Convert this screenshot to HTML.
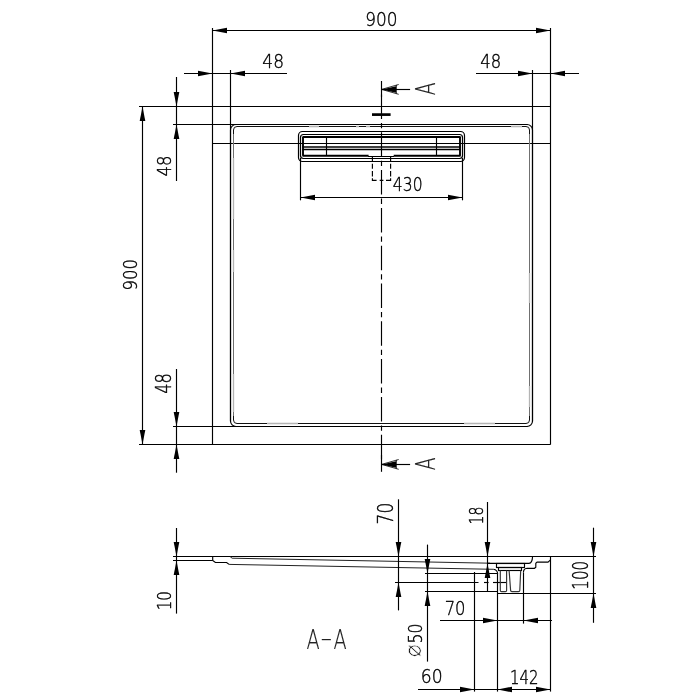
<!DOCTYPE html>
<html lang="en">
<head>
<meta charset="utf-8">
<title>Shower tray 900 x 900 - technical drawing</title>
<style>
html,body{margin:0;padding:0;background:#fff;}
body{width:700px;height:700px;overflow:hidden;}
svg{display:block;}
.ln *{fill:none;stroke:#000;stroke-width:1.15;}
.ln .a, .a{fill:#000;stroke:none;}
.t{font-family:"DejaVu Sans Light","DejaVu Sans","Liberation Sans",sans-serif;font-weight:200;font-size:20px;fill:#000;stroke:#000;stroke-width:0.38px;vector-effect:non-scaling-stroke;stroke-linejoin:round;}
.s{stroke-width:0.12px;fill:#222;stroke:#222;}
.d{font-family:"DejaVu Sans","Liberation Sans",sans-serif;font-size:20px;fill:#000;stroke:#fff;stroke-width:0.55px;}
svg{will-change:transform;}
</style>
</head>
<body>
<svg width="700" height="700" viewBox="0 0 700 700">
<rect width="700" height="700" fill="#fff"/>
<g class="ln">
<line x1="212.5" y1="28" x2="212.5" y2="444.4"/>
<line x1="550.5" y1="28" x2="550.5" y2="444.4"/>
<line x1="212.5" y1="30.5" x2="550.6" y2="30.5"/>
<line x1="230.5" y1="70" x2="230.5" y2="421.4"/>
<line x1="532.5" y1="70" x2="532.5" y2="421.4"/>
<line x1="184" y1="73.5" x2="287" y2="73.5"/>
<line x1="476" y1="73.5" x2="579" y2="73.5"/>
<line x1="139" y1="106.5" x2="550.6" y2="106.5"/>
<line x1="173" y1="124.5" x2="527.5" y2="124.5"/>
<line x1="212.5" y1="143.5" x2="550.6" y2="143.5"/>
<line x1="173" y1="426.5" x2="527.5" y2="426.5"/>
<line x1="139" y1="444.5" x2="550.6" y2="444.5"/>
<line x1="142.5" y1="106.4" x2="142.5" y2="444.4"/>
<line x1="176.5" y1="77" x2="176.5" y2="181"/>
<line x1="176.5" y1="369" x2="176.5" y2="472.7"/>
<rect x="230.5" y="124.5" width="302.0" height="302.0" rx="5.5"/>
<rect x="233.5" y="126.5" width="296.0" height="297.0" rx="3.5" style="stroke-width:1.0;stroke:#111;"/>
<path d="M233.5 134V416M529.5 134V416" style="stroke-width:1.4;stroke:rgba(255,255,255,0.4);"/>
<path d="M233.5 158V219M233.5 250V272M233.5 374V412M529.5 273V303M529.5 386V407M309 126.5H319M356 126.5H359M366 126.5H370M511 126.5H522M267 423.5H298M464 423.5H495" style="stroke-width:1.3;stroke:#b4b4b4;"/>
<rect x="298.5" y="131.5" width="166.0" height="30.0" rx="4" style="stroke-width:1.2;"/>
<rect x="300.5" y="134.5" width="162.0" height="24.0" rx="3" style="stroke-width:1.2;"/>
<line x1="302.5" y1="137.0" x2="460.6" y2="137.0" style="stroke-width:1.9;"/>
<line x1="302.5" y1="147.0" x2="460.6" y2="147.0" style="stroke-width:1.7;"/>
<line x1="302.5" y1="149.5" x2="460.6" y2="149.5" style="stroke-width:1.5;"/>
<line x1="302.5" y1="155.8" x2="368.6" y2="155.8" style="stroke-width:1.9;"/>
<line x1="393.7" y1="155.8" x2="460.6" y2="155.8" style="stroke-width:1.9;"/>
<line x1="368" y1="156.5" x2="394" y2="156.5" style="stroke-width:1.0;"/>
<line x1="303.0" y1="136.9" x2="303.0" y2="155.7" style="stroke-width:1.9;"/>
<line x1="460.0" y1="136.9" x2="460.0" y2="155.7" style="stroke-width:1.9;"/>
<line x1="326.5" y1="136.9" x2="326.5" y2="155.7"/>
<line x1="436.5" y1="136.9" x2="436.5" y2="155.7"/>
<line x1="300.5" y1="158" x2="300.5" y2="200.3"/>
<line x1="462.5" y1="158" x2="462.5" y2="200.3"/>
<line x1="300.5" y1="197.5" x2="462.6" y2="197.5"/>
<path d="M372.4 156.5V161.3M390.6 156.5V161.3"/>
<path d="M372.4 163.7V180.3H390.6V163.7" stroke-dasharray="5 2.2 5.7 1.7 6.2 3.1 3.7 2.6 6.6 1.7 5.7 2.2 5"/>
<line x1="381.5" y1="94.5" x2="381.5" y2="459.2" stroke-dasharray="24.5 4 5.3 4"/>
<line x1="381.5" y1="81" x2="381.5" y2="97"/>
<line x1="381.5" y1="455" x2="381.5" y2="471.8"/>
<line x1="372" y1="114.6" x2="390.6" y2="114.6" style="stroke-width:2.7;"/>
<line x1="381.5" y1="89.5" x2="410.1" y2="89.5"/>
<path d="M398.7 84.5L381.6 89.4L398.7 94.30000000000001M396.4 84.9V93.7" style="stroke-width:0.8;"/>
<polygon class="a" points="381.6,89.4 396,86.2 396,92.80000000000001"/>
<line x1="381.5" y1="464.5" x2="410.1" y2="464.5"/>
<path d="M398.7 459.5L381.6 464.4L398.7 469.29999999999995M396.4 459.9V468.7" style="stroke-width:0.8;"/>
<polygon class="a" points="381.6,464.4 396,461.2 396,467.79999999999995"/>
<line x1="173" y1="556.5" x2="596" y2="556.5"/>
<line x1="173" y1="560.5" x2="212.7" y2="560.5"/>
<line x1="176.5" y1="528" x2="176.5" y2="613.6"/>
<path d="M212.7 556.4V560.4L215.4 562.5H226.6L229.1 564.4"/>
<path d="M229.1 564.4L493.5 569.3" style="stroke-width:1.0;stroke:#222;"/>
<path d="M230 556.5L232.1 558.2L490 563.2" style="stroke-width:1.0;stroke:#222;"/>
<line x1="398.5" y1="499.3" x2="398.5" y2="610.4"/>
<line x1="395" y1="582.5" x2="478.5" y2="582.5"/>
<line x1="484" y1="582.5" x2="488.6" y2="582.5"/>
<line x1="493" y1="582.5" x2="506.3" y2="582.5"/>
<line x1="427.5" y1="544.6" x2="427.5" y2="661.6"/>
<line x1="425" y1="573.5" x2="497" y2="573.5"/>
<line x1="425" y1="591.5" x2="497.7" y2="591.5"/>
<line x1="474.5" y1="572" x2="474.5" y2="691.6"/>
<line x1="497.5" y1="574" x2="497.5" y2="691.6"/>
<line x1="523.5" y1="572.5" x2="523.5" y2="623.6"/>
<line x1="550.5" y1="556.4" x2="550.5" y2="691.6"/>
<line x1="497.7" y1="593.5" x2="596" y2="593.5"/>
<line x1="593.5" y1="527.7" x2="593.5" y2="622.8"/>
<line x1="487.5" y1="502" x2="487.5" y2="591.4"/>
<line x1="440" y1="620.5" x2="552" y2="620.5"/>
<line x1="418" y1="689.5" x2="550.6" y2="689.5"/>
<path d="M532.6 556.4C532.4 560 532 563.3 529 563.3H487"/>
<path d="M550.5 559.9L548 562.1H537.1L535.8 563.2V567.3L534.5 568.3H527Q523.6 568.6 523.4 572.5"/>
<path d="M493.5 569.3Q497.4 570 497.7 574"/>
<rect x="496.5" y="563.5" width="28.0" height="4.0" rx="0"/>
<rect x="498.5" y="567.5" width="23.0" height="3.0" rx="0"/>
<path d="M500.3 570.4V590.4Q500.3 591.6 501.5 591.6H505.4Q506.6 591.6 506.6 590.4V570.4" style="stroke:#333;"/>
<path d="M509.1 570.4L510.6 590.4Q510.7 591.6 511.9 591.6H518.5Q519.7 591.6 519.8 590.4L520.7 570.4" style="stroke:#333;"/>
</g>
<polygon class="a" points="212.5,30.5 227.0,27.7 227.0,33.3"/>
<polygon class="a" points="550.5,30.5 536.0,27.7 536.0,33.3"/>
<polygon class="a" points="212.5,73.5 198.0,70.7 198.0,76.3"/>
<polygon class="a" points="230.5,73.5 245.0,70.7 245.0,76.3"/>
<polygon class="a" points="532.5,73.5 518.0,70.7 518.0,76.3"/>
<polygon class="a" points="550.5,73.5 565.0,70.7 565.0,76.3"/>
<polygon class="a" points="142.5,106.5 139.7,121.0 145.3,121.0"/>
<polygon class="a" points="142.5,444.5 139.7,430.0 145.3,430.0"/>
<polygon class="a" points="176.5,106.5 173.7,92.0 179.3,92.0"/>
<polygon class="a" points="176.5,124.5 173.7,139.0 179.3,139.0"/>
<polygon class="a" points="176.5,426.5 173.7,412.0 179.3,412.0"/>
<polygon class="a" points="176.5,444.5 173.7,459.0 179.3,459.0"/>
<polygon class="a" points="300.5,197.5 315.0,194.7 315.0,200.3"/>
<polygon class="a" points="462.5,197.5 448.0,194.7 448.0,200.3"/>
<polygon class="a" points="176.5,556.5 173.7,542.0 179.3,542.0"/>
<polygon class="a" points="176.5,560.5 173.7,575.0 179.3,575.0"/>
<polygon class="a" points="398.5,556.5 395.7,542.0 401.3,542.0"/>
<polygon class="a" points="398.5,582.5 395.7,597.0 401.3,597.0"/>
<polygon class="a" points="427.5,573.5 424.7,559.0 430.3,559.0"/>
<polygon class="a" points="427.5,591.5 424.7,606.0 430.3,606.0"/>
<polygon class="a" points="487.5,556.5 484.7,542.0 490.3,542.0"/>
<polygon class="a" points="487.5,563.5 484.7,578.0 490.3,578.0"/>
<polygon class="a" points="593.5,556.5 590.7,542.0 596.3,542.0"/>
<polygon class="a" points="593.5,593.5 590.7,608.0 596.3,608.0"/>
<polygon class="a" points="497.5,620.5 483.0,617.7 483.0,623.3"/>
<polygon class="a" points="523.5,620.5 538.0,617.7 538.0,623.3"/>
<polygon class="a" points="474.5,689.5 460.0,686.7 460.0,692.3"/>
<polygon class="a" points="497.5,689.5 512.0,686.7 512.0,692.3"/>
<polygon class="a" points="550.5,689.5 536.0,686.7 536.0,692.3"/>
<text class="t" transform="translate(365.25 25.71) scale(0.8465 0.9844)">900</text>
<text class="t" transform="translate(262.37 67.72) scale(0.8504 0.9916)">48</text>
<text class="t" transform="translate(480.20 67.72) scale(0.8238 0.9916)">48</text>
<text class="t" transform="translate(392.84 191.42) scale(0.7781 0.9645)">430</text>
<text class="t" transform="translate(136.61 290.49) rotate(-90) scale(0.8204 1.0042)">900</text>
<text class="t" transform="translate(170.72 176.50) rotate(-90) scale(0.8238 0.9916)">48</text>
<text class="t" transform="translate(170.81 393.80) rotate(-90) scale(0.8149 1.0181)">48</text>
<text class="t" transform="translate(170.71 610.26) rotate(-90) scale(0.7571 0.9910)">10</text>
<text class="t" transform="translate(393.30 524.39) rotate(-90) scale(0.8473 1.0306)">70</text>
<text class="t" transform="translate(482.72 524.54) rotate(-90) scale(0.7023 0.9916)">18</text>
<text class="t" transform="translate(587.90 589.65) rotate(-90) scale(0.7503 1.0174)">100</text>
<g aria-label="⌀50">
<text class="d" transform="translate(420.87 656.96) rotate(-90) scale(1.0551 1.2235)">⌀</text>
<text class="t" transform="translate(422.00 643.55) rotate(-90) scale(0.7863 1.0108)">50</text>
</g>
<text class="t" transform="translate(444.65 615.32) scale(0.8199 0.9645)">70</text>
<text class="t" transform="translate(420.73 683.32) scale(0.8591 0.9645)">60</text>
<text class="t" transform="translate(509.96 684.00) scale(0.7476 0.9836)">142</text>
<g aria-label="A-A">
<text class="t s" transform="translate(306.52 648.90) scale(0.9660 1.3717)">A</text>
<text class="t s" transform="translate(320.35 647.61) scale(1.6908 1.4985)">-</text>
<text class="t s" transform="translate(333.42 648.90) scale(0.9660 1.3717)">A</text>
</g>
<text class="t s" transform="translate(435.00 95.16) rotate(-90) scale(0.9338 1.3580)">A</text>
<text class="t s" transform="translate(435.00 470.16) rotate(-90) scale(0.9338 1.3580)">A</text>
</svg>
</body>
</html>
